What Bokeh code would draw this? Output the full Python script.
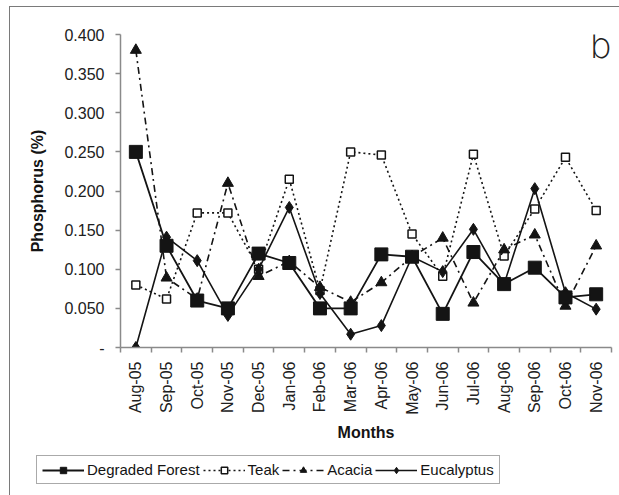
import math

from bokeh.embed import file_html
from bokeh.layouts import column
from bokeh.models import (CustomJSTickFormatter, FixedTicker, Label, Legend,
                          LegendItem, Range1d)
from bokeh.plotting import figure
from bokeh.resources import INLINE

# Monthly phosphorus content (%) by land use
months = ["Aug-05", "Sep-05", "Oct-05", "Nov-05", "Dec-05", "Jan-06",
          "Feb-06", "Mar-06", "Apr-06", "May-06", "Jun-06", "Jul-06",
          "Aug-06", "Sep-06", "Oct-06", "Nov-06"]

degraded_forest = [0.250, 0.130, 0.060, 0.050, 0.120, 0.108, 0.050, 0.050,
                   0.119, 0.116, 0.043, 0.122, 0.081, 0.102, 0.064, 0.068]
teak = [0.080, 0.062, 0.172, 0.172, 0.100, 0.215, 0.073, 0.250,
        0.246, 0.145, 0.091, 0.247, 0.117, 0.177, 0.243, 0.175]
acacia = [0.380, 0.089, 0.062, 0.210, 0.091, 0.110, 0.077, 0.058,
          0.083, 0.116, 0.140, 0.057, 0.125, 0.144, 0.053, 0.130]
eucalyptus = [0.000, 0.141, 0.111, 0.041, 0.100, 0.179, 0.069, 0.017,
              0.028, 0.116, 0.097, 0.151, 0.081, 0.203, 0.070, 0.049]

y_ticks = [0.0, 0.05, 0.10, 0.15, 0.20, 0.25, 0.30, 0.35, 0.40]

FONT = "Liberation Sans"
INK = "#141414"
AXIS_GREY = "#8a8a8a"
PANEL_GREY = "#7a7a7a"

# series styles, shared by the chart and the key below it
STYLES = {
    "Degraded Forest": dict(line=dict(line_width=1.8),
                            marker=dict(marker="square", size=13, fill_color=INK)),
    "Teak": dict(line=dict(line_width=1.6, line_dash="2 3"),
                 marker=dict(marker="square", size=8, fill_color="white", line_width=1.5)),
    "Acacia": dict(line=dict(line_width=1.6, line_dash="7 4 2 4"),
                   marker=dict(marker="triangle", size=11, fill_color=INK)),
    "Eucalyptus": dict(line=dict(line_width=1.6),
                       marker=dict(marker="diamond", size=12, fill_color=INK)),
}
SERIES = {"Degraded Forest": degraded_forest, "Teak": teak,
          "Acacia": acacia, "Eucalyptus": eucalyptus}
DRAW_ORDER = ["Teak", "Acacia", "Eucalyptus", "Degraded Forest"]
KEY_ORDER = ["Degraded Forest", "Teak", "Acacia", "Eucalyptus"]

x = list(range(len(months)))

# ---- main chart -------------------------------------------------------
p = figure(width=609, height=445, output_backend="svg", toolbar_location=None,
           x_range=Range1d(-0.5, len(months) - 0.5), y_range=Range1d(0, 0.4),
           min_border_left=110, min_border_right=8, min_border_top=27,
           min_border_bottom=105, frame_align=False)
p.outline_line_color = None
p.grid.visible = False
p.background_fill_color = "white"
p.border_fill_color = "white"

# x axis: labels at month centres, tick marks between months
xa = p.xaxis[0]
xa.ticker = FixedTicker(ticks=x, minor_ticks=[i - 0.5 for i in range(len(months) + 1)])
xa.major_label_overrides = {i: m for i, m in enumerate(months)}
xa.major_label_orientation = math.pi / 2
xa.major_tick_out = 0
xa.major_tick_in = 0
xa.minor_tick_out = 5
xa.minor_tick_in = 0
xa.major_label_standoff = 9
xa.axis_label = "Months"
xa.axis_label_standoff = 6

ya = p.yaxis[0]
ya.ticker = FixedTicker(ticks=y_ticks)
ya.formatter = CustomJSTickFormatter(code="return tick < 1e-9 ? '-' : tick.toFixed(3);")
ya.major_tick_out = 5
ya.major_tick_in = 0
ya.minor_tick_out = 0
ya.minor_tick_in = 0
ya.major_label_standoff = 11
ya.axis_label = "Phosphorus (%)"
ya.axis_label_standoff = 15

for ax in (xa, ya):
    ax.axis_line_color = AXIS_GREY
    ax.axis_line_width = 1.5
    ax.major_tick_line_color = AXIS_GREY
    ax.minor_tick_line_color = AXIS_GREY
    ax.major_tick_line_width = 1.5
    ax.minor_tick_line_width = 1.5
    ax.major_label_text_font = FONT
    ax.major_label_text_font_size = "16px"
    ax.major_label_text_color = "#202020"
    ax.axis_label_text_font = FONT
    ax.axis_label_text_font_size = "16px"
    ax.axis_label_text_font_style = "bold"
    ax.axis_label_text_color = INK

for name in DRAW_ORDER:
    st = STYLES[name]
    p.line(x, SERIES[name], line_color=INK, **st["line"])
    p.scatter(x, SERIES[name], line_color=INK, **st["marker"])

# panel letter, in a light face
p.add_layout(Label(x=15.15, y=0.386, text="b", text_align="center",
                   text_baseline="middle", text_font="DejaVu Sans Light",
                   text_font_size="36px", text_color="#222222"))

# ---- key strip under the chart ----------------------------------------
k = figure(width=609, height=43, output_backend="svg", toolbar_location=None,
           x_axis_type=None, y_axis_type=None, min_border=0, frame_align=False,
           x_range=Range1d(0, 1), y_range=Range1d(0, 1))
k.outline_line_color = None
k.background_fill_color = "white"
k.border_fill_color = "white"

# key renderers sit outside the strip's ranges: only their key glyphs show
items = []
for name in KEY_ORDER:
    st = STYLES[name]
    ln = k.line([5, 6], [5, 6], line_color=INK, **st["line"])
    mk = k.scatter([5], [5], line_color=INK, **st["marker"])
    items.append(LegendItem(label=name, renderers=[ln, mk]))

legend = Legend(items=items, orientation="horizontal", location=(26, 11))
legend.glyph_width = 42
legend.glyph_height = 16
legend.label_standoff = 3
legend.spacing = 3
legend.padding = 5
legend.margin = 0
legend.label_text_font = FONT
legend.label_text_font_size = "15px"
legend.label_text_color = INK
legend.border_line_color = "#555555"
legend.border_line_width = 1.2
legend.background_fill_color = "white"
k.add_layout(legend, "center")

# thin grey frame around the whole panel
page = column(p, k, spacing=0, margin=(6, 0, 0, 9),
              styles={"border-top": f"1px solid {PANEL_GREY}",
                      "border-left": f"1px solid {PANEL_GREY}"})

open("out.html", "w").write(file_html(page, INLINE))
